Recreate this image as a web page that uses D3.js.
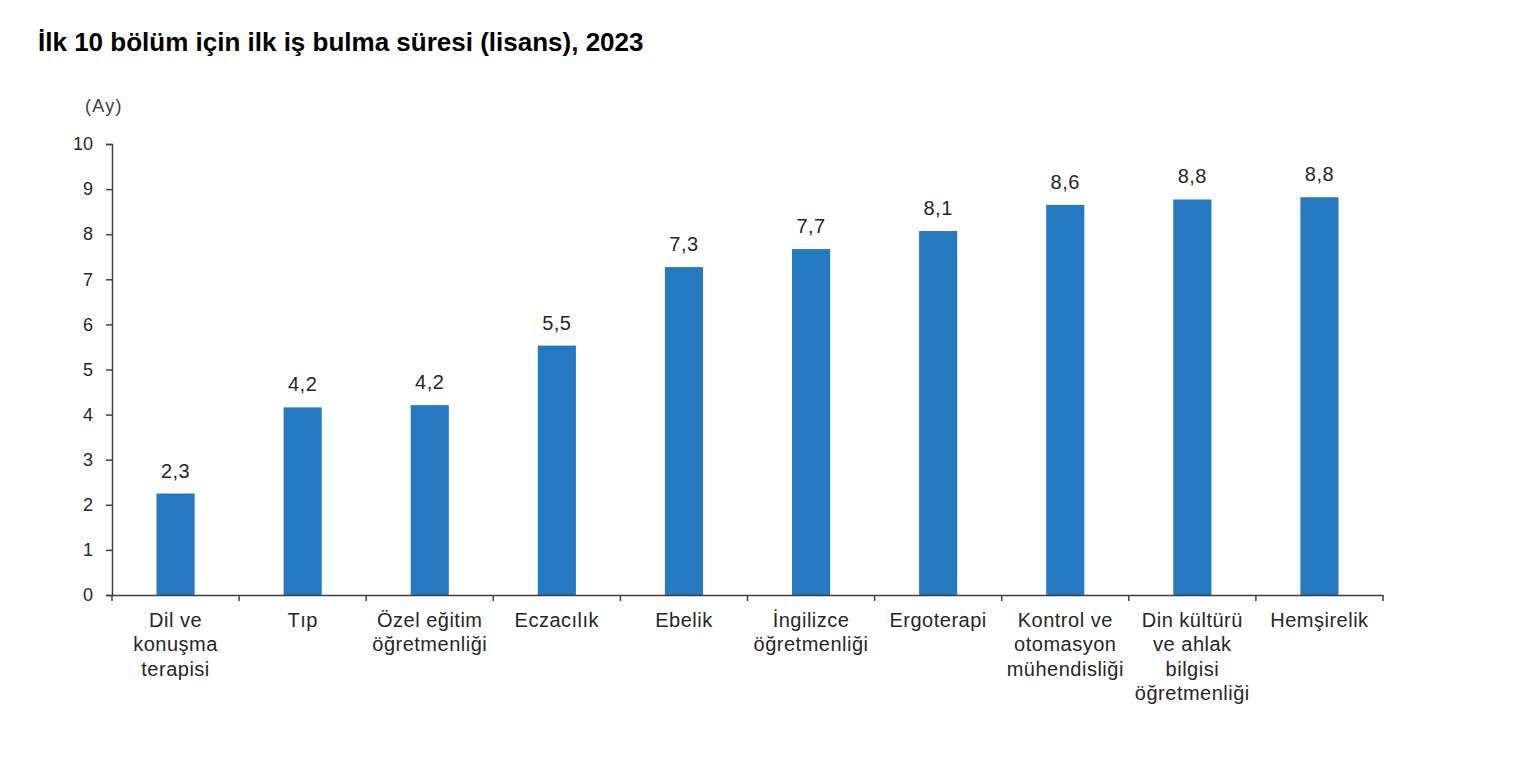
<!DOCTYPE html>
<html>
<head>
<meta charset="utf-8">
<script src="https://cdn.jsdelivr.net/npm/d3@7"></script>
<style>
  html, body { margin: 0; padding: 0; background: #fff; }
  svg { display: block; font-family: "Liberation Sans", Arial, sans-serif; }
</style>
</head>
<body>
<svg id="chart" width="1514" height="762"></svg>
<script>
const title = "İlk 10 bölüm için ilk iş bulma süresi (lisans), 2023";
const unitLabel = "(Ay)";
const categories = [
  "Dil ve\nkonuşma\nterapisi",
  "Tıp",
  "Özel eğitim\nöğretmenliği",
  "Eczacılık",
  "Ebelik",
  "İngilizce\nöğretmenliği",
  "Ergoterapi",
  "Kontrol ve\notomasyon\nmühendisliği",
  "Din kültürü\nve ahlak\nbilgisi\nöğretmenliği",
  "Hemşirelik"
];
const values = [2.25, 4.16, 4.21, 5.53, 7.27, 7.67, 8.07, 8.65, 8.77, 8.82];
const valueLabels = ["2,3", "4,2", "4,2", "5,5", "7,3", "7,7", "8,1", "8,6", "8,8", "8,8"];
const yTicks = [0, 1, 2, 3, 4, 5, 6, 7, 8, 9, 10];

const svg = d3.select("#chart");
const margin = { left: 112, right: 1383, top: 144, bottom: 595 };

const x = d3.scaleBand()
  .domain(categories)
  .range([margin.left, margin.right])
  .paddingInner(0.70)
  .paddingOuter(0.35);

const y = d3.scaleLinear().domain([0, 10]).range([margin.bottom, margin.top]);

const textColor = "#262626";
const axisColor = "#404040";

// Title
svg.append("text")
  .attr("x", 38).attr("y", 51)
  .attr("font-size", 26).attr("font-weight", "bold")
  .attr("fill", "#000")
  .text(title);

// Unit
svg.append("text")
  .attr("x", 85).attr("y", 112)
  .attr("font-size", 18).attr("letter-spacing", 1.3).attr("fill", "#404040")
  .text(unitLabel);

// Bars
svg.append("g").selectAll("rect")
  .data(values)
  .join("rect")
  .attr("x", (d, i) => x(categories[i]))
  .attr("y", d => y(d))
  .attr("width", x.bandwidth())
  .attr("height", d => y(0) - y(d))
  .attr("fill", "#2479c1");

// Value labels
svg.append("g").selectAll("text")
  .data(values)
  .join("text")
  .attr("x", (d, i) => x(categories[i]) + x.bandwidth() / 2)
  .attr("y", d => y(d) - 16)
  .attr("text-anchor", "middle")
  .attr("font-size", 20)
  .attr("letter-spacing", 0.5)
  .attr("fill", textColor)
  .text((d, i) => valueLabels[i]);

// Y axis
const yAxis = d3.axisLeft(y).tickValues(yTicks).tickSize(6).tickPadding(13).tickFormat(d3.format("d"));
const gy = svg.append("g").attr("transform", `translate(${margin.left},0)`).call(yAxis);
gy.select(".domain").attr("stroke", axisColor).attr("stroke-width", 1.5);
gy.selectAll(".tick line").attr("stroke", axisColor).attr("stroke-width", 1.5);
gy.selectAll(".tick text").attr("font-size", 18).attr("fill", textColor)
  .attr("font-family", "Liberation Sans, Arial, sans-serif");

// X axis
const xAxis = d3.axisBottom(x).tickSize(0).tickFormat("");
const gx = svg.append("g").attr("transform", `translate(0,${margin.bottom})`).call(xAxis);
gx.select(".domain").attr("stroke", axisColor).attr("stroke-width", 1.5);

// Boundary ticks
const step = x.step();
const bounds = categories.map(c => x(c) + x.bandwidth() / 2 - step / 2);
bounds.push(x(categories[categories.length - 1]) + x.bandwidth() / 2 + step / 2);
svg.append("g").selectAll("line")
  .data(bounds)
  .join("line")
  .attr("x1", d => d).attr("x2", d => d)
  .attr("y1", margin.bottom).attr("y2", margin.bottom + 6)
  .attr("stroke", axisColor).attr("stroke-width", 1.5);

// Category labels
const lineH = 24.3;
const catG = svg.append("g");
categories.forEach((c, i) => {
  const t = catG.append("text")
    .attr("x", x(c) + x.bandwidth() / 2)
    .attr("y", 627)
    .attr("text-anchor", "middle")
    .attr("font-size", 20)
    .attr("letter-spacing", 0.5)
    .attr("fill", textColor);
  c.split("\n").forEach((ln, j) => {
    t.append("tspan")
      .attr("x", x(c) + x.bandwidth() / 2)
      .attr("dy", j === 0 ? 0 : lineH)
      .text(ln);
  });
});
</script>
</body>
</html>
